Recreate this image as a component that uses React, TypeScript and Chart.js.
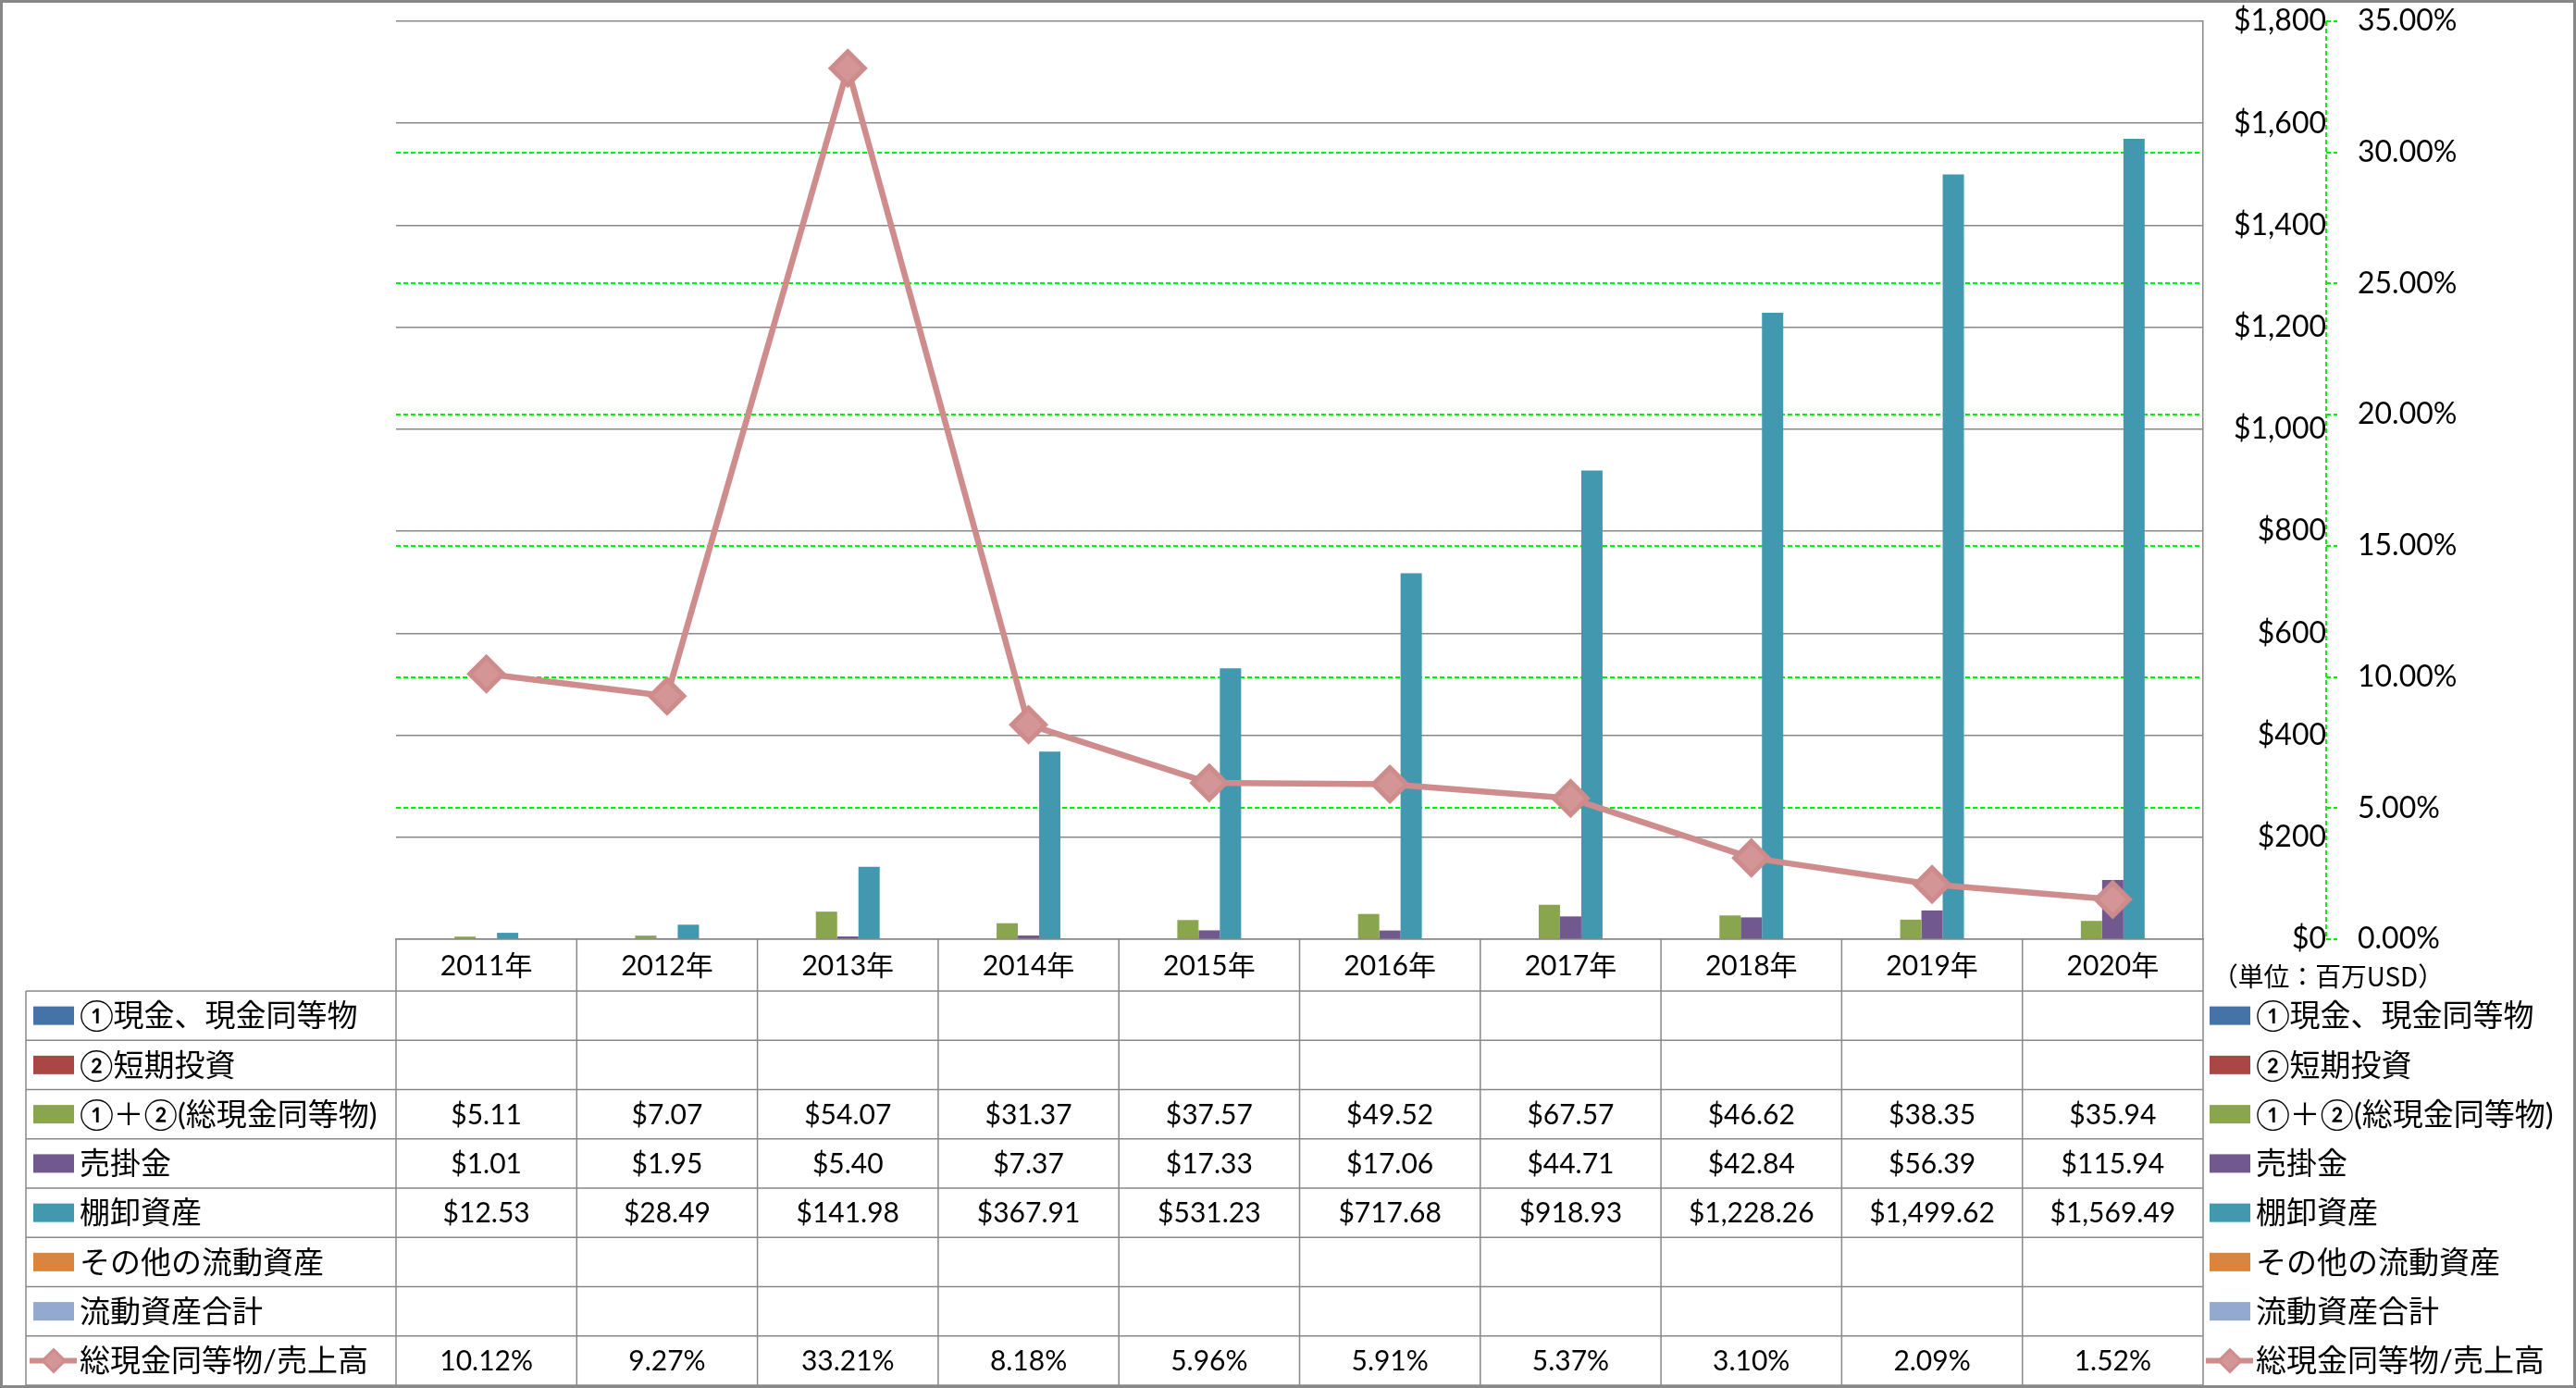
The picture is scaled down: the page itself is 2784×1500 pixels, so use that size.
import React, { useEffect, useRef } from 'react';
import { Chart, registerables } from 'chart.js';

Chart.register(...registerables);

// ---------------- data ----------------
const years = ['2011年', '2012年', '2013年', '2014年', '2015年', '2016年', '2017年', '2018年', '2019年', '2020年'];

const cashEquivalents: (number | null)[] = [null, null, null, null, null, null, null, null, null, null];
const shortTermInvestments: (number | null)[] = [null, null, null, null, null, null, null, null, null, null];
const totalCash: (number | null)[] = [5.11, 7.07, 54.07, 31.37, 37.57, 49.52, 67.57, 46.62, 38.35, 35.94];
const receivables: (number | null)[] = [1.01, 1.95, 5.4, 7.37, 17.33, 17.06, 44.71, 42.84, 56.39, 115.94];
const inventory: (number | null)[] = [12.53, 28.49, 141.98, 367.91, 531.23, 717.68, 918.93, 1228.26, 1499.62, 1569.49];
const otherCurrentAssets: (number | null)[] = [null, null, null, null, null, null, null, null, null, null];
const totalCurrentAssets: (number | null)[] = [null, null, null, null, null, null, null, null, null, null];
const cashToSales: (number | null)[] = [10.12, 9.27, 33.21, 8.18, 5.96, 5.91, 5.37, 3.1, 2.09, 1.52];

const seriesNames = [
  '①現金、現金同等物',
  '②短期投資',
  '①＋②(総現金同等物)',
  '売掛金',
  '棚卸資産',
  'その他の流動資産',
  '流動資産合計',
  '総現金同等物/売上高',
];
const seriesColors = ['#4572A7', '#AA4643', '#89A54E', '#71588F', '#4198AF', '#DB843D', '#93A9CF', '#CF8C8C'];

const dollarMax = 1800;
const dollarStep = 200;
const percentMax = 35;
const percentStep = 5;
const unitLabel = '（単位：百万USD）';

// ---------------- styling ----------------
const LATIN = 'Lato, "Noto Sans CJK JP", sans-serif';
const GRID = '#888888';
const GREEN = '#00EE00';
const LINE_COL = '#CF8C8C';
const MARKER_FILL = '#D39595';
const MARKER_BORDER = '#CD8B8B';

const fmtDollar = (v: number) =>
  '$' + v.toLocaleString('en-US', { minimumFractionDigits: 2, maximumFractionDigits: 2 });
const fmtPct = (v: number) => v.toFixed(2) + '%';

function drawDiamond(ctx: CanvasRenderingContext2D, x: number, y: number, r: number) {
  ctx.beginPath();
  ctx.moveTo(x - r, y);
  ctx.lineTo(x, y - r);
  ctx.lineTo(x + r, y);
  ctx.lineTo(x, y + r);
  ctx.closePath();
  ctx.fill();
}

const tablePlugin = {
  id: 'dataTable',
  afterDraw(chart: any) {
    const ctx: CanvasRenderingContext2D = chart.ctx;
    const area = chart.chartArea;
    const xs = chart.scales.x;
    const y1 = chart.scales.y1;
    const n = chart.data.labels.length;
    const cw = (area.right - area.left) / n;
    const headerTop = area.bottom;
    const headerBottom = headerTop + 56;
    const rowH = 53.25;
    const nRows = chart.data.datasets.length;
    const tableLeft = 28;
    const tableBottom = headerBottom + nRows * rowH;

    ctx.save();

    // secondary axis dashed line
    ctx.strokeStyle = GREEN;
    ctx.lineWidth = 2;
    ctx.setLineDash([5, 3]);
    ctx.beginPath();
    ctx.moveTo(y1.left, area.top);
    ctx.lineTo(y1.left, area.bottom);
    ctx.stroke();
    ctx.setLineDash([]);

    // table lines
    ctx.strokeStyle = GRID;
    ctx.lineWidth = 1.5;
    ctx.beginPath();
    for (let r = 0; r <= nRows; r++) {
      const yy = headerBottom + r * rowH;
      ctx.moveTo(tableLeft, yy);
      ctx.lineTo(area.right, yy);
    }
    ctx.moveTo(tableLeft, headerBottom);
    ctx.lineTo(tableLeft, tableBottom);
    for (let i = 0; i <= n; i++) {
      const xx = area.left + i * cw;
      ctx.moveTo(xx, headerTop);
      ctx.lineTo(xx, tableBottom);
    }
    ctx.stroke();

    // header years
    ctx.fillStyle = '#000';
    ctx.textAlign = 'center';
    ctx.textBaseline = 'middle';
    ctx.font = '30px ' + LATIN;
    for (let i = 0; i < n; i++) {
      ctx.fillText(chart.data.labels[i], xs.getPixelForValue(i), (headerTop + headerBottom) / 2 + 1);
    }

    // values
    chart.data.datasets.forEach((ds: any, r: number) => {
      const yc = headerBottom + (r + 0.5) * rowH + 1;
      ds.data.forEach((v: number | null, i: number) => {
        if (v === null || v === undefined) return;
        const txt = r === nRows - 1 ? fmtPct(v) : fmtDollar(v);
        ctx.fillText(txt, xs.getPixelForValue(i), yc);
      });
    });

    // legend keys (left column & right legend)
    const drawKey = (r: number, boxX: number, textX: number) => {
      const yc = headerBottom + (r + 0.5) * rowH;
      const color = seriesColors[r];
      if (r === nRows - 1) {
        ctx.strokeStyle = LINE_COL;
        ctx.lineWidth = 6;
        ctx.beginPath();
        ctx.moveTo(boxX - 4, yc);
        ctx.lineTo(boxX + 47, yc);
        ctx.stroke();
        ctx.fillStyle = MARKER_BORDER;
        drawDiamond(ctx, boxX + 22, yc, 14);
        ctx.fillStyle = MARKER_FILL;
        drawDiamond(ctx, boxX + 22, yc, 10);
      } else {
        ctx.fillStyle = color;
        ctx.fillRect(boxX, yc - 10, 44, 20);
      }
      ctx.fillStyle = '#000';
      ctx.textAlign = 'left';
      ctx.textBaseline = 'middle';
      ctx.font = '33px ' + LATIN;
      ctx.fillText(seriesNames[r], textX, yc + 1);
    };
    for (let r = 0; r < nRows; r++) {
      drawKey(r, 36, 86);
      drawKey(r, area.right + 7, area.right + 57);
    }

    // unit label
    ctx.fillStyle = '#000';
    ctx.textAlign = 'left';
    ctx.textBaseline = 'middle';
    ctx.font = '28px "Noto Sans CJK JP", sans-serif';
    ctx.fillText(unitLabel, area.right + 10, 1055, 250);

    // outer border
    ctx.strokeStyle = GRID;
    ctx.lineWidth = 3;
    ctx.strokeRect(1.5, 1.5, chart.width - 3, chart.height - 3);

    ctx.restore();
  },
};

export default function App() {
  const canvasRef = useRef<HTMLCanvasElement | null>(null);

  useEffect(() => {
    const canvas = canvasRef.current;
    if (!canvas) return;
    const barSeries = [cashEquivalents, shortTermInvestments, totalCash, receivables, inventory, otherCurrentAssets, totalCurrentAssets];
    const datasets: any[] = barSeries.map((d, i) => ({
      type: 'bar',
      label: seriesNames[i],
      data: d,
      backgroundColor: seriesColors[i],
      borderWidth: 0,
      yAxisID: 'y',
      order: 1,
      categoryPercentage: 0.824,
      barPercentage: 1,
    }));
    datasets.push({
      type: 'line',
      label: seriesNames[7],
      data: cashToSales,
      yAxisID: 'y1',
      order: 0,
      borderColor: LINE_COL,
      borderWidth: 6.5,
      borderJoinStyle: 'round',
      tension: 0,
      pointStyle: 'rectRot',
      pointRadius: 18,
      pointBorderWidth: 5,
      pointBackgroundColor: MARKER_FILL,
      pointBorderColor: MARKER_BORDER,
    });

    const noPad = (s: any) => {
      s.paddingTop = 0;
      s.paddingBottom = 0;
      s.paddingLeft = 0;
      s.paddingRight = 0;
    };

    const chart = new Chart(canvas, {
      type: 'bar',
      data: { labels: years, datasets },
      options: {
        animation: false,
        responsive: false,
        devicePixelRatio: 1,
        layout: { padding: { left: 428, top: 21, right: 0, bottom: 0 } },
        plugins: { legend: { display: false }, tooltip: { enabled: false } },
        scales: {
          x: {
            type: 'category',
            offset: true,
            grid: { display: false },
            ticks: { display: false },
            border: { display: true, color: GRID, width: 1.5 },
            afterFit: (s: any) => {
              s.height = 485;
              noPad(s);
            },
          },
          y: {
            position: 'right',
            weight: 0,
            min: 0,
            max: dollarMax,
            ticks: {
              stepSize: dollarStep,
              crossAlign: 'far',
              padding: 30,
              color: '#000',
              font: { family: LATIN, size: 32 },
              callback: (v: any) => '$' + Number(v).toLocaleString('en-US'),
            },
            grid: { color: GRID, lineWidth: 1.5, drawTicks: false },
            border: { display: true, color: GRID, width: 1.5 },
            afterFit: (s: any) => {
              s.width = 133;
              noPad(s);
            },
          },
          y1: {
            position: 'right',
            weight: 1,
            min: 0,
            max: percentMax,
            ticks: {
              stepSize: percentStep,
              padding: 22,
              color: '#000',
              font: { family: LATIN, size: 32 },
              callback: (v: any) => fmtPct(Number(v)),
            },
            grid: {
              color: (c: any) => (c.tick && (c.tick.value === 0 || c.tick.value === percentMax) ? 'rgba(0,0,0,0)' : GREEN),
              lineWidth: 2,
              drawTicks: true,
              tickLength: 12,
              tickColor: GREEN,
              tickWidth: 2,
              tickBorderDash: [5, 3],
            },
            border: { display: false, dash: [5, 3] },
            afterFit: (s: any) => {
              s.width = 270;
              noPad(s);
            },
          },
        },
      },
      plugins: [tablePlugin],
    } as any);

    return () => chart.destroy();
  }, []);

  return (
    <div style={{ position: 'fixed', left: 0, top: 0, width: 2784, height: 1500, background: '#fff' }}>
      <canvas ref={canvasRef} width={2784} height={1500} style={{ width: 2784, height: 1500, display: 'block' }} />
    </div>
  );
}
